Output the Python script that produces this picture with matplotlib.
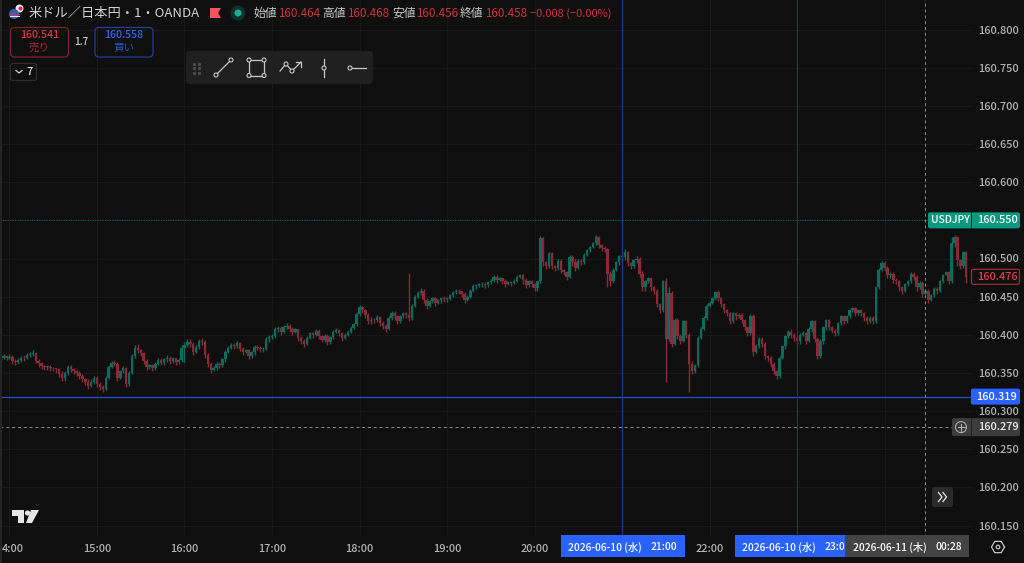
import matplotlib
matplotlib.use('Agg')
import matplotlib.pyplot as plt
from matplotlib.patches import FancyBboxPatch, Circle, Polygon, Rectangle
from matplotlib.transforms import ScaledTranslation
import numpy as np

plt.rcParams['font.family'] = ['Noto Sans CJK JP', 'DejaVu Sans']

# 2 minute bars, thousandths above 160.000, first bar 13:54
closes = [
    369,372,370,
    371,366,364,367,370,369,373,375,376,366,363,359,358,358,357,356,355,349,343,350,358,355,352,350,346,342,338,333,338,343,
    335,331,329,344,358,363,362,344,352,356,336,350,372,383,380,376,366,358,360,356,362,367,363,368,370,366,369,364,367,383,
    387,391,388,378,384,392,391,374,362,354,357,362,360,368,378,383,386,385,389,382,378,380,372,377,384,383,381,382,395,397,
    398,407,409,404,410,412,408,404,407,396,392,388,396,402,400,405,398,393,399,390,397,404,406,402,396,400,404,409,414,427,
    436,432,426,418,420,419,423,416,412,408,422,429,424,418,424,428,426,422,438,450,455,458,446,438,444,448,442,445,448,447,
    447,452,456,458,457,454,446,450,458,464,464,466,467,465,469,471,476,472,474,471,467,469,468,471,476,478,472,465,470,466,
    461,470,527,495,490,507,490,488,497,485,482,476,502,495,488,497,495,505,511,515,520,528,518,514,512,480,470,485,495,503,
    502,508,494,490,498,500,480,462,470,474,462,458,440,432,470,395,455,388,420,398,392,418,400,362,352,360,396,408,422,438,
    442,448,456,448,440,432,428,418,428,424,426,419,410,403,425,378,385,395,388,372,370,362,352,346,370,385,398,404,400,396,
    392,400,402,392,408,418,395,372,392,410,419,410,405,402,415,424,418,424,432,435,428,432,428,422,418,422,418,462,485,494,
    488,478,480,472,470,462,458,466,470,480,476,462,468,454,458,446,452,460,458,470,478,482,470,520,528,498,490,508,476,
]
highs = [
    373,375,374,
    375,373,368,369,372,373,376,378,380,378,368,364,361,360,360,358,357,357,352,352,360,361,357,354,352,348,344,342,342,346,
    346,338,334,346,360,366,367,364,354,359,358,352,375,386,388,382,378,368,362,362,364,369,369,370,373,372,371,370,370,386,
    390,395,394,390,386,395,396,393,376,364,359,364,365,370,380,385,389,389,392,391,384,382,382,379,387,387,385,384,397,400,
    401,410,412,411,413,415,414,410,409,408,398,394,398,404,404,407,407,400,401,401,399,406,409,408,404,402,406,411,416,430,
    439,438,434,428,423,422,426,425,418,414,424,431,431,426,426,430,430,481,440,452,458,461,460,448,446,450,450,447,450,451,
    450,454,458,460,460,458,456,452,460,466,467,468,469,469,471,473,478,478,476,475,473,471,471,473,478,480,480,474,472,472,
    468,472,530,528,497,509,509,492,499,499,486,484,504,504,499,499,499,507,513,517,522,531,530,519,516,514,484,487,497,505,
    508,512,510,496,500,503,502,484,472,476,476,464,460,442,472,475,462,458,422,422,401,420,420,403,366,362,398,410,424,440,
    444,450,458,459,450,442,434,430,430,430,428,428,421,412,427,427,388,397,397,390,374,372,364,354,372,387,400,406,407,402,
    398,402,405,404,410,420,420,397,394,412,421,421,412,407,417,426,426,426,434,437,437,434,434,430,424,424,424,464,487,497,
    497,490,482,482,474,472,464,468,472,482,482,478,470,470,460,460,454,462,462,472,480,484,484,528,531,530,500,510,510,
]
lows = [
    366,368,367,
    368,362,360,362,365,366,368,371,372,363,358,355,354,354,352,352,350,345,339,340,347,351,348,346,342,338,334,329,331,336,
    331,327,325,327,342,356,359,340,342,350,332,333,348,370,376,372,362,354,355,352,354,360,360,361,365,362,363,360,362,364,
    365,384,384,374,376,382,386,370,358,350,352,354,356,358,365,376,381,381,383,379,374,376,368,370,374,380,378,378,380,391,
    394,396,404,400,402,407,404,400,402,392,388,384,386,394,396,398,394,390,390,386,388,395,402,398,392,394,398,402,407,412,
    424,428,422,414,414,416,417,412,408,404,406,420,420,414,416,422,422,418,420,436,448,452,442,434,436,442,438,440,442,443,
    443,446,450,454,454,450,442,444,448,456,460,462,463,461,463,467,469,468,470,467,463,465,464,467,469,474,466,461,463,462,
    457,458,468,490,486,488,486,484,485,481,478,472,474,490,484,486,491,493,503,509,514,518,514,510,508,462,464,468,483,491,
    496,498,490,486,488,494,476,458,458,468,458,454,436,428,430,338,392,384,386,394,388,390,396,325,348,350,358,394,406,420,
    436,440,446,444,436,428,424,414,416,420,422,415,406,399,400,372,376,383,384,368,366,358,348,342,344,368,382,396,396,392,
    388,388,398,388,390,404,390,368,370,388,406,406,402,398,400,413,414,416,422,430,424,426,424,418,414,416,414,416,460,483,
    484,474,474,468,466,458,454,456,464,468,472,458,460,450,452,442,444,450,454,456,468,478,466,468,515,490,486,488,468,
]
first_open = 368

price_ticks = [160.80, 160.75, 160.70, 160.65, 160.60, 160.55, 160.50, 160.45, 160.40,
               160.35, 160.30, 160.25, 160.20, 160.15]
# 14:00 is cut at the left edge, 21:00, 23:00 and 00:00 sit under the crosshair pills
hour_labels = ['4:00', '15:00', '16:00', '17:00', '18:00', '19:00', '20:00', '', '22:00', '', '']
hour_minutes = [0, 60, 120, 180, 240, 300, 360, 420, 480, 540, 600]

alert_price = 160.550
last_price = 160.476
blue_price = 160.319
cross_price = 160.279
cross_minute = 628
blue_minutes = [420, 540]

BG = '#0f0f0f'
GRID = '#191919'
UP = '#0c6b5c'
DOWN = '#8b2a36'
AXIS_TEXT = '#b2b2b2'
RED = '#d12f3f'
BLUE = '#2962ff'
TAG_GREEN = '#089981'

closes = 160 + np.array(closes) / 1000
highs = 160 + np.array(highs) / 1000
lows = 160 + np.array(lows) / 1000
opens = np.r_[160 + first_open / 1000, closes[:-1]]
minutes = -6 + 2 * np.arange(len(closes))

fig = plt.figure(figsize=(10.24, 5.63), dpi=100, facecolor=BG)
ax = fig.add_axes([0, 26 / 563, 971 / 1024, 537 / 563], facecolor=BG)
ax.set_xlim(-6.51, 659.3)
ax.set_ylim(160.5 + (258.5 - 537) / 763, 160.5 + 258.5 / 763)
for s in ax.spines.values():
    s.set_visible(False)

ax.set_yticks(price_ticks)
ax.set_yticklabels(['%.3f' % p for p in price_ticks])
ax.set_xticks(hour_minutes)
ax.set_xticklabels(hour_labels)
ax.yaxis.tick_right()
ax.tick_params(axis='y', length=0, pad=5, labelsize=7.9, labelcolor=AXIS_TEXT)
ax.tick_params(axis='x', length=0, pad=5, labelsize=7.9, labelcolor=AXIS_TEXT)
ax.grid(True, color=GRID, linewidth=0.8)
ax.set_axisbelow(True)
for t in ax.get_yticklabels() + ax.get_xticklabels():
    t.set_fontweight('medium')
first = ax.get_xticklabels()[0]
first.set_transform(first.get_transform() + ScaledTranslation(3.5 / 100, 0, fig.dpi_scale_trans))

# candles
colors = [UP if c >= o else DOWN for o, c in zip(opens, closes)]
ax.vlines(minutes, lows, highs, colors=colors, linewidth=1.0, zorder=2)
ax.bar(minutes, np.maximum(np.abs(closes - opens), 0.0008), bottom=np.minimum(opens, closes),
       width=1.7, color=colors, linewidth=0, zorder=2)

# price and time lines
ax.axhline(alert_price, xmax=927 / 971, color='#0a6f5e', linewidth=0.7, linestyle=(0, (1, 1.5)), zorder=3)
ax.axhline(blue_price, color='#1f4fd0', linewidth=0.9, zorder=3)
ax.axvline(blue_minutes[0], color='#1e3a8a', linewidth=0.9, zorder=3)
ax.axvline(blue_minutes[1], color='#2b3a66', linewidth=0.7, zorder=3)
ax.axhline(cross_price, xmax=952 / 971, color='#8c8c8c', linewidth=0.7, linestyle=(0, (3, 3)), zorder=4)
ax.axvline(cross_minute, color='#8c8c8c', linewidth=0.7, linestyle=(0, (3, 3)), zorder=4)

# overlay in picture pixels for the trading view furniture
ov = fig.add_axes([0, 0, 1, 1], facecolor='none')
ov.set_xlim(0, 1024)
ov.set_ylim(563, 0)
ov.axis('off')


def price_y(p):
    return 563 - ax.transData.transform((0, p))[1]


def box(x0, y0, x1, y1, fc='none', ec='none', r=2, lw=0.9, z=5):
    ov.add_patch(FancyBboxPatch((x0 + r, y0 + r), x1 - x0 - 2 * r, y1 - y0 - 2 * r,
                                boxstyle='round,pad=%g,rounding_size=%g' % (r, r),
                                fc=fc, ec=ec, lw=lw, zorder=z))


def label(x, y, s, color='#ffffff', size=7.9, ha='center', weight='medium', z=6):
    ov.text(x, y, s, color=color, fontsize=size, ha=ha, va='center', fontweight=weight, zorder=z)


ov.add_patch(Rectangle((0, 0), 1.5, 563, fc='#242424', ec='none', zorder=5))

# price tags
y = price_y(alert_price)
box(928, y - 8, 1020, y + 8, fc=TAG_GREEN)
ov.plot([971, 971], [y - 8, y + 8], color='#0f0f0f', lw=0.6, zorder=6)
label(950, y, 'USDJPY', size=7.4)
label(997, y, '%.3f' % alert_price)

y = price_y(last_price)
box(971.5, y - 7.5, 1019.5, y + 7.5, fc=BG, ec='#a02a36')
label(997, y, '%.3f' % last_price, color='#e0404e')

y = price_y(blue_price)
box(971, y - 8, 1020, y + 8, fc=BLUE)
label(997, y, '%.3f' % blue_price)

y = price_y(cross_price)
box(952, y - 9, 1020, y + 9, fc='#3c3c3c')
ov.plot([971, 971], [y - 9, y + 9], color='#1c1c1c', lw=0.6, zorder=6)
ov.add_patch(Circle((961, y), 5.5, fc='none', ec='#b8b8b8', lw=0.7, zorder=6))
ov.plot([957.5, 964.5], [y, y], color='#b8b8b8', lw=0.7, zorder=6)
ov.plot([961, 961], [y - 3.5, y + 3.5], color='#b8b8b8', lw=0.7, zorder=6)
label(998.5, y, '%.3f' % cross_price, color='#f0f0f0')

# time pills
ov.add_patch(Rectangle((561, 535), 124, 22, fc=BLUE, ec='none', zorder=5))
ov.add_patch(Rectangle((735, 535), 111, 22, fc=BLUE, ec='none', zorder=5))
ov.add_patch(Rectangle((845, 535), 124, 22, fc='#434343', ec='none', zorder=7))
label(604.5, 547, '2026-06-10 (水)', size=7.4)
label(663.5, 547, '21:00', size=7.4)
label(778.5, 547, '2026-06-10 (水)', size=7.4)
label(825, 547, '23:0', size=7.4, ha='left')
label(890, 547, '2026-06-11 (木)', size=7.4, z=8)
label(948.5, 547, '00:28', size=7.4, z=8)

# scroll button, settings and logo
box(932, 487, 953, 507, fc='#2a2a2a', r=3)
ov.plot([938.5, 942, 938.5], [492.5, 497, 501.5], color='#d8d8d8', lw=1, zorder=6)
ov.plot([943, 946.5, 943], [492.5, 497, 501.5], color='#d8d8d8', lw=1, zorder=6)
ang = np.deg2rad(np.arange(0, 361, 60))
ov.plot(998 + 6.5 * np.cos(ang), 547 + 6.5 * np.sin(ang), color='#c4c4c4', lw=0.9, zorder=6)
ov.add_patch(Circle((998, 547), 1.8, fc='none', ec='#c4c4c4', lw=0.9, zorder=6))
ov.add_patch(Polygon([(12, 510), (24, 510), (24, 523), (18, 523), (18, 516), (12, 516)], fc='#e6e6e6', zorder=6))
ov.add_patch(Circle((27.5, 513), 2.6, fc='#e6e6e6', zorder=6))
ov.add_patch(Polygon([(31, 510), (39, 510), (32, 523), (26, 523)], fc='#e6e6e6', zorder=6))

# legend row
ov.add_patch(Circle((19.5, 8.5), 4, fc='#e8e8e8', zorder=5))
ov.add_patch(Circle((20.5, 8.5), 2, fc='#d8303c', zorder=6))
ov.add_patch(Circle((14, 14), 5, fc='#3a5fb0', zorder=6))
ov.plot([10, 18.5], [16, 16], color='#e4e4e4', lw=0.8, zorder=7)
ov.plot([10, 18.5], [13.5, 13.5], color='#d8303c', lw=0.8, zorder=7)
label(29, 13.5, '米ドル／日本円・1・OANDA', color='#d4d4d4', size=9.5, ha='left', weight='normal')
ov.add_patch(Polygon([(210, 8), (221, 8), (218, 13), (221, 18), (210, 18)], fc='#f7525f', zorder=6))
ov.add_patch(Circle((238, 13), 7.5, fc='#10312c', zorder=5))
ov.add_patch(Circle((238, 13), 3.5, fc='#22ab94', zorder=6))
for lx, name, vx, val in [(253, '始値', 278, '160.464'), (322, '高値', 347, '160.468'),
                          (392, '安値', 416, '160.456'), (460, '終値', 485, '160.458')]:
    label(lx, 13.5, name, color='#c8c8c8', size=8.5, ha='left', weight='normal')
    label(vx, 13.5, val, color=RED, size=8.4, ha='left', weight='normal')
label(530, 13.5, '−0.008 (−0.00%)', color=RED, size=8.0, ha='left', weight='normal')

# order buttons
box(10.5, 27.5, 68.5, 57, ec='#7d222c', r=4)
label(39.5, 35.5, '160.541', color='#d93444', size=7.6)
label(39, 47.5, '売り', color='#a52c39', size=7.6, weight='normal')
label(81.5, 42, '1.7', color='#c8c8c8', size=7)
box(95, 27.5, 153, 57, ec='#1f3f96', r=4)
label(124, 35.5, '160.558', color='#2f67f0', size=7.6)
label(124, 47.5, '買い', color='#2a55c0', size=7.6, weight='normal')
box(10.5, 63.5, 36.5, 80.5, ec='#2c2c2c', r=2)
ov.plot([16, 19, 22], [70.5, 73, 70.5], color='#d0d0d0', lw=0.9, zorder=6)
label(30, 72, '7', color='#d8d8d8', size=8)

# drawing toolbar
box(186, 51, 373, 84, fc='#1f1f1f', r=4)
for dx in (193.5, 199):
    for dy in (63.5, 68, 72.5):
        ov.plot([dx], [dy], 's', color='#4a4a4a', ms=1.3, zorder=6)
TOOL = '#c8c8c8'


def node(x, y):
    ov.add_patch(Circle((x, y), 2, fc='#1f1f1f', ec=TOOL, lw=0.8, zorder=7))


ov.plot([216, 231], [75, 60], color=TOOL, lw=0.9, zorder=6)
node(216, 75), node(231, 60)
ov.add_patch(Rectangle((249, 60), 15, 15.5, fc='none', ec=TOOL, lw=0.9, zorder=6))
for nx, ny in [(249, 60), (264, 60), (249, 75.5), (264, 75.5)]:
    node(nx, ny)
ov.plot([280, 286, 292, 301], [71, 64, 71, 62], color=TOOL, lw=0.9, zorder=6)
ov.plot([296, 301, 301], [62, 62, 67], color=TOOL, lw=0.9, zorder=6)
node(286, 64), node(292, 71)
ov.plot([324, 324], [59, 77], color=TOOL, lw=0.9, zorder=6)
node(324, 68)
ov.plot([350, 366], [68, 68], color=TOOL, lw=0.9, zorder=6)
node(350, 68)

fig.savefig('out.png', dpi=100, facecolor=BG)
